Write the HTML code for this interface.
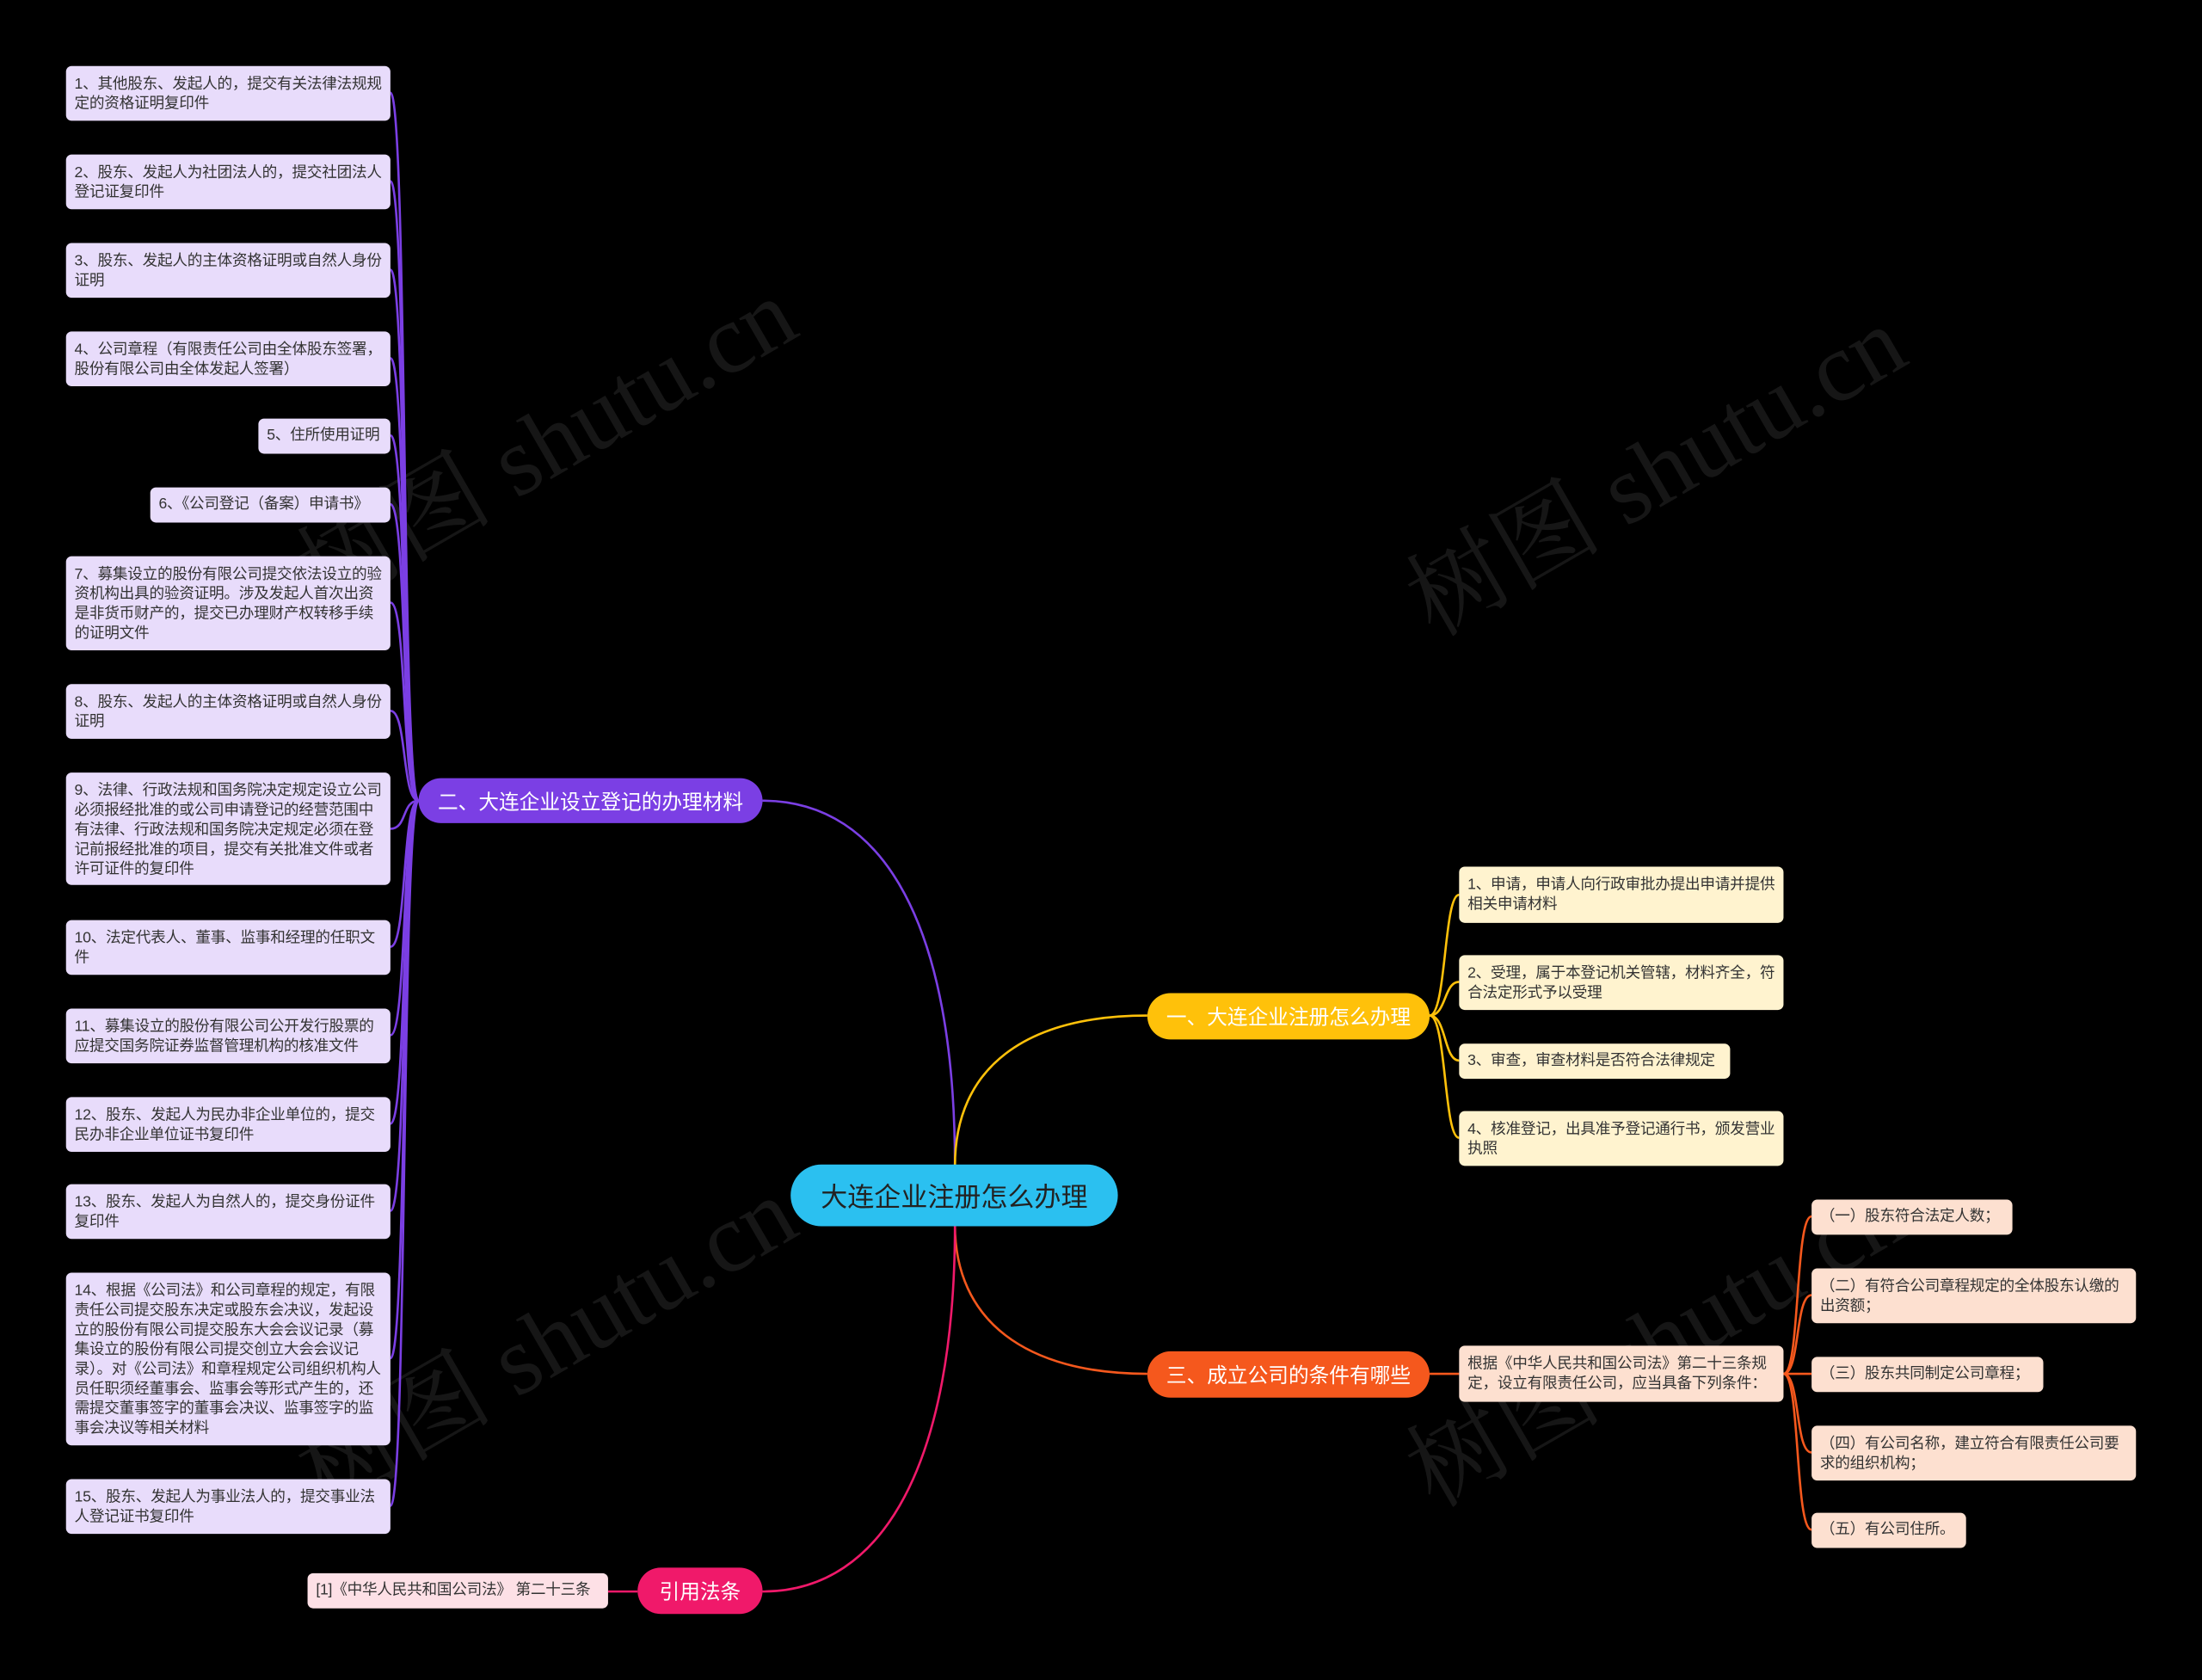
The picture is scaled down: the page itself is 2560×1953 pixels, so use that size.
<!DOCTYPE html>
<html><head><meta charset="utf-8"><style>
html,body{margin:0;padding:0;background:#000;width:2560px;height:1953px;overflow:hidden}
#w{position:absolute;left:0;top:0;width:1568px;height:1196px;transform:scale(1.63265,1.63294);transform-origin:0 0;font-family:"Liberation Sans","Noto Sans CJK SC",sans-serif}
.b{position:absolute;box-sizing:border-box;border-radius:4px;font-size:10.8px;line-height:14px;color:#333;padding:6px 4px 0 6px;overflow:hidden;letter-spacing:-0.15px}
.s{white-space:nowrap;padding-top:5px}
.p{background:#e8dcfb}.y{background:#fff3cf}.o{background:#fde0d0}.k{background:#fde0e6}
.n{position:absolute;box-sizing:border-box;border-radius:17px;color:#fff;font-size:14.5px;display:flex;align-items:center;justify-content:center;white-space:nowrap}
svg{position:absolute;left:0;top:0}
.wm{position:absolute;color:#161616;font-size:70px;font-family:"Liberation Serif","Noto Serif CJK SC",serif;transform:rotate(-30deg);white-space:nowrap}
</style></head><body><div id="w">
<div class="wm" style="left:190px;top:260px">树图 shutu.cn</div>
<div class="wm" style="left:980px;top:280px">树图 shutu.cn</div>
<div class="wm" style="left:190px;top:900px">树图 shutu.cn</div>
<div class="wm" style="left:980px;top:900px">树图 shutu.cn</div>
<svg width="1568" height="1196" fill="none" stroke-width="1.6">
<g stroke="#7b3fe4">
<path d="M298,570 C286,570 290,66 278,66"/><path d="M298,570 C286,570 290,129 278,129"/><path d="M298,570 C286,570 290,192 278,192"/><path d="M298,570 C286,570 290,255 278,255"/><path d="M298,570 C286,570 290,310 278,310"/><path d="M298,570 C286,570 290,359 278,359"/><path d="M298,570 C286,570 290,429 278,429"/><path d="M298,570 C286,570 290,506 278,506"/><path d="M298,570 C286,570 290,590 278,590"/><path d="M298,570 C286,570 290,674 278,674"/><path d="M298,570 C286,570 290,737 278,737"/><path d="M298,570 C286,570 290,800 278,800"/><path d="M298,570 C286,570 290,862 278,862"/><path d="M298,570 C286,570 290,967 278,967"/><path d="M298,570 C286,570 290,1072 278,1072"/>
<path d="M680,830 C680,660 630,570 543,570"/></g>
<path stroke="#ffc10a" d="M680,830 C680,760 730,723 817,723"/>
<g stroke="#ffc10a"><path d="M1018,723 C1030,723 1028,637 1039,637"/><path d="M1018,723 C1030,723 1028,699 1039,699"/><path d="M1018,723 C1030,723 1028,755 1039,755"/><path d="M1018,723 C1030,723 1028,810 1039,810"/></g>
<path stroke="#f5581d" d="M680,872 C680,940 730,978 817,978"/>
<g stroke="#f5581d"><path d="M1018,978 L1039,978"/><path d="M1270,978 C1282,978 1278,866 1290,866"/><path d="M1270,978 C1282,978 1278,922 1290,922"/><path d="M1270,978 L1290,978"/><path d="M1270,978 C1282,978 1278,1034 1290,1034"/><path d="M1270,978 C1282,978 1278,1089 1290,1089"/></g>
<path stroke="#f0196a" d="M680,872 C680,1040 630,1133 543,1133"/>
<path stroke="#f0196a" d="M454,1133 L433,1133"/>
</svg>
<div class="b p" style="left:47px;top:47px;width:231px;height:39px">1、其他股东、发起人的，提交有关法律法规规定的资格证明复印件</div>
<div class="b p" style="left:47px;top:110px;width:231px;height:39px">2、股东、发起人为社团法人的，提交社团法人登记证复印件</div>
<div class="b p" style="left:47px;top:173px;width:231px;height:39px">3、股东、发起人的主体资格证明或自然人身份证明</div>
<div class="b p" style="left:47px;top:236px;width:231px;height:39px">4、公司章程（有限责任公司由全体股东签署，股份有限公司由全体发起人签署）</div>
<div class="b p s" style="left:184px;top:298px;width:94px;height:25px">5、住所使用证明</div>
<div class="b p s" style="left:107px;top:347px;width:171px;height:25px">6、《公司登记（备案）申请书》</div>
<div class="b p" style="left:47px;top:396px;width:231px;height:67px">7、募集设立的股份有限公司提交依法设立的验资机构出具的验资证明。涉及发起人首次出资是非货币财产的，提交已办理财产权转移手续的证明文件</div>
<div class="b p" style="left:47px;top:487px;width:231px;height:39px">8、股东、发起人的主体资格证明或自然人身份证明</div>
<div class="b p" style="left:47px;top:550px;width:231px;height:80px">9、法律、行政法规和国务院决定规定设立公司必须报经批准的或公司申请登记的经营范围中有法律、行政法规和国务院决定规定必须在登记前报经批准的项目，提交有关批准文件或者许可证件的复印件</div>
<div class="b p" style="left:47px;top:655px;width:231px;height:39px">10、法定代表人、董事、监事和经理的任职文件</div>
<div class="b p" style="left:47px;top:718px;width:231px;height:39px">11、募集设立的股份有限公司公开发行股票的应提交国务院证券监督管理机构的核准文件</div>
<div class="b p" style="left:47px;top:781px;width:231px;height:39px">12、股东、发起人为民办非企业单位的，提交民办非企业单位证书复印件</div>
<div class="b p" style="left:47px;top:843px;width:231px;height:39px">13、股东、发起人为自然人的，提交身份证件复印件</div>
<div class="b p" style="left:47px;top:906px;width:231px;height:123px">14、根据《公司法》和公司章程的规定，有限责任公司提交股东决定或股东会决议，发起设立的股份有限公司提交股东大会会议记录（募集设立的股份有限公司提交创立大会会议记录）。对《公司法》和章程规定公司组织机构人员任职须经董事会、监事会等形式产生的，还需提交董事签字的董事会决议、监事签字的监事会决议等相关材料</div>
<div class="b p" style="left:47px;top:1053px;width:231px;height:39px">15、股东、发起人为事业法人的，提交事业法人登记证书复印件</div>
<div class="n" style="left:298px;top:554px;width:245px;height:32px;background:#7b3fe4">二、大连企业设立登记的办理材料</div>
<div class="n" style="left:563px;top:829px;width:233px;height:44px;background:#2bc0f0;color:#222;font-size:19px;border-radius:22px">大连企业注册怎么办理</div>
<div class="n" style="left:817px;top:707px;width:201px;height:33px;background:#ffc10a">一、大连企业注册怎么办理</div>
<div class="n" style="left:817px;top:962px;width:201px;height:33px;background:#f5581d">三、成立公司的条件有哪些</div>
<div class="n" style="left:454px;top:1116px;width:89px;height:33px;background:#f0196a">引用法条</div>
<div class="b k s" style="left:219px;top:1120px;width:214px;height:25px">[1]《中华人民共和国公司法》 第二十三条</div>
<div class="b y" style="left:1039px;top:617px;width:231px;height:40px">1、申请，申请人向行政审批办提出申请并提供相关申请材料</div>
<div class="b y" style="left:1039px;top:680px;width:231px;height:39px">2、受理，属于本登记机关管辖，材料齐全，符合法定形式予以受理</div>
<div class="b y s" style="left:1039px;top:743px;width:193px;height:25px">3、审查，审查材料是否符合法律规定</div>
<div class="b y" style="left:1039px;top:791px;width:231px;height:39px">4、核准登记，出具准予登记通行书，颁发营业执照</div>
<div class="b o" style="left:1039px;top:958px;width:231px;height:40px">根据《中华人民共和国公司法》第二十三条规定，设立有限责任公司，应当具备下列条件：</div>
<div class="b o s" style="left:1290px;top:854px;width:143px;height:25px">（一）股东符合法定人数；</div>
<div class="b o" style="left:1290px;top:903px;width:231px;height:39px">（二）有符合公司章程规定的全体股东认缴的出资额；</div>
<div class="b o s" style="left:1290px;top:966px;width:165px;height:25px">（三）股东共同制定公司章程；</div>
<div class="b o" style="left:1290px;top:1015px;width:231px;height:39px">（四）有公司名称，建立符合有限责任公司要求的组织机构；</div>
<div class="b o s" style="left:1290px;top:1077px;width:110px;height:25px">（五）有公司住所。</div>
</div></body></html>
